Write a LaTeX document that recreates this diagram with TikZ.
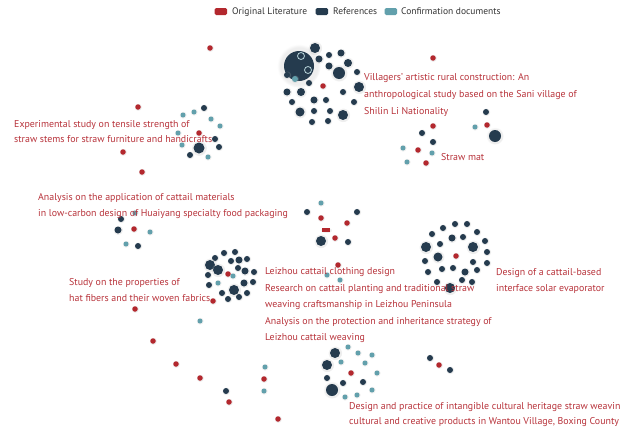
\documentclass[tikz,border=0pt]{standalone}
\usepackage{fontspec}
\setmainfont{PT Sans}
\usetikzlibrary{shadows,fadings}
\definecolor{cred}{HTML}{B3282E}
\definecolor{cnavy}{HTML}{253B4E}
\definecolor{cteal}{HTML}{62A0AC}
\definecolor{ctext}{HTML}{B8333B}
\definecolor{cedge}{HTML}{D3D6DA}
\definecolor{clegend}{HTML}{333333}
\pgfdeclarelayer{bg}
\pgfsetlayers{bg,main}
\tikzset{
  dot/.style={circle,inner sep=0pt,outer sep=0pt,draw=none,
    circular glow={fill=gray!60,opacity=0.22,shadow scale=1.45}},
  orig/.style={dot,fill=cred,minimum size=5.5pt},
  refn/.style={dot,fill=cnavy,minimum size=6pt},
  conf/.style={dot,fill=cteal,minimum size=5pt},
  ring/.style={circle,inner sep=0pt,minimum size=7pt,draw=white!55!cteal,line width=0.8pt},
  edge/.style={draw=cedge,line width=0.55pt},
  lbl/.style={text=ctext,font=\fontsize{9.9}{12}\selectfont,anchor=base west,inner sep=0pt},
  legtxt/.style={text=clegend,font=\fontsize{9.5}{11}\selectfont,anchor=base west,inner sep=0pt},
  swatch/.style={rounded corners=1.5pt,minimum width=12.5pt,minimum height=7pt,inner sep=0pt,anchor=west},
}
\newcommand\mkcluster[3]{%
  \foreach \x/\y/\d/\c [count=\i] in {#3} {%
    \node[dot,fill=\c,minimum size=\d pt] (#1\i) at (\x,\y) {};
    \begin{pgfonlayer}{bg}\draw[edge] (#2) -- (#1\i);\end{pgfonlayer}
  }}
\begin{document}
\begin{tikzpicture}[x=1pt,y=-1pt]
\useasboundingbox[fill=white] (0,0) rectangle (620,431);

% legend
\node[swatch,fill=cred] (lg1) at (214.5,11.5) {};
\node[legtxt] (lt1) at (232,14.9) {Original Literature};
\node[swatch,fill=cnavy] (lg2) at (315.5,11.5) {};
\node[legtxt] (lt2) at (333,14.9) {References};
\node[swatch,fill=cteal] (lg3) at (384.5,11.5) {};
\node[legtxt] (lt3) at (401,14.9) {Confirmation documents};

% cluster 1: Villagers'
\node[orig] (A) at (323,86) {};
\mkcluster{a}{A}{299/66/30/cnavy, 315/48/10/cnavy, 319/59/7/cnavy, 329/55/6/cnavy, 341/53/7/cnavy, 329/66/7/cnavy, 339/73/12/cnavy, 348/63/8/cnavy, 357/72/6/cnavy, 359/87/10/cnavy, 343/92/6/cnavy, 354/102/6/cnavy, 343/115/10/cnavy, 330/111/6/cnavy, 326/100/6/cnavy, 314/100/7/cnavy, 314/111/6/cnavy, 300/112/9/cnavy, 312/122/6/cnavy, 328/121/6/cnavy, 301/92/8/cnavy, 287/92/7/cnavy, 292/102/6/cnavy, 309/83/6/cnavy, 287/75/6/cnavy, 295/79/6/cteal}
\node[ring] (ar1) at (301,56) {};
\node[ring] (ar2) at (308,70) {};

% cluster 2: Experimental study
\node[orig] (B) at (199,133) {};
\mkcluster{b}{B}{204/108/6/cnavy, 194/112/5/cteal, 183/115/5/cteal, 211/119/5/cteal, 220/126/5/cteal, 178/133/5/cteal, 182/145/5/cteal, 199/148/11/cnavy, 215/139/6/cnavy, 219/147/6/cnavy, 190/155/6/cnavy, 208/157/5/cteal}

% cluster 3: Straw mat
\node[orig] (C) at (418,150) {};
\mkcluster{c}{C}{433/126/5.5/cred, 422/133/6/cnavy, 433/142/6/cnavy, 403/148/5/cteal, 432/153/5/cteal, 407/162/5/cteal, 426/163/5.5/cred}

% small group right of straw mat
\node[orig] (D) at (487,125) {};
\mkcluster{d}{D}{486/112/6/cnavy, 475/127/5/cteal, 495/136/12/cnavy}

% cluster 4: Huaiyang
\node[orig] (E) at (134,229) {};
\mkcluster{e}{E}{121/219/6/cnavy, 135/213/5/cteal, 118/230/7/cnavy, 150/232/5/cteal, 126/244/5/cteal, 138/246/6/cnavy}

% cluster 5: middle tree
\node[conf] (m1) at (321,203) {};
\node[refn] (m2) at (307,212) {};
\node[orig] (m3) at (321,218) {};
\node[refn] (m4) at (357,212) {};
\node[orig] (m5) at (347,223) {};
\node[dot,fill=cred,rectangle,minimum width=8pt,minimum height=3.5pt] (m6) at (326,230) {};
\node[orig] (m7) at (335,238) {};
\node[refn,minimum size=10pt] (m8) at (321,241) {};
\node[refn] (m9) at (348,242) {};
\node[orig] (m10) at (338,265) {};
\node[conf] (m11) at (327,275) {};
\node[conf] (m12) at (340,280) {};
\begin{pgfonlayer}{bg}
\draw[edge] (m1) -- (m3);
\draw[edge] (m2) -- (m3);
\draw[edge] (m3) -- (m6);
\draw[edge] (m6) -- (m7);
\draw[edge] (m5) -- (m4);
\draw[edge] (m5) -- (m7);
\draw[edge] (m7) -- (m8);
\draw[edge] (m7) -- (m9);
\draw[edge] (m7) -- (m10);
\draw[edge] (m10) -- (m11);
\draw[edge] (m10) -- (m12);
\end{pgfonlayer}

% cluster 6: Leizhou
\node[orig] (F) at (228,274) {};
\mkcluster{f}{F}{233/276/5/cteal, 218/283/5/cteal, 224/253/6/cnavy, 235/252/6/cnavy, 215/258/6/cnavy, 231/261/6/cnavy, 239/260/7/cnavy, 247/259/6/cnavy, 210/265/10/cnavy, 218/270/10/cnavy, 238/268/6/cnavy, 245/271/7/cnavy, 254/272/6/cnavy, 208/275/6/cnavy, 244/283/7/cnavy, 253/282/6/cnavy, 209/285/6/cnavy, 222/293/6/cnavy, 234/290/10/cnavy, 247/293/6/cnavy, 228/299/6/cnavy, 239/297/6/cnavy, 213/301/5.5/cred}
\node[conf] (ft) at (200,321) {};
\begin{pgfonlayer}{bg}\draw[edge] (f23) -- (ft);\end{pgfonlayer}

% cluster 7: solar evaporator
\node[orig] (G) at (456,256) {};
\mkcluster{g}{G}{455/224/6/cnavy, 467/224/6/cnavy, 443/228/6/cnavy, 477/232/6/cnavy, 432/234/6/cnavy, 452/238/7/cnavy, 463/237/6/cnavy, 485/241/6/cnavy, 440/244/6/cnavy, 473/247/10/cnavy, 426/247/10/cnavy, 487/252/6/cnavy, 438/257/9/cnavy, 425/261/6/cnavy, 473/262/6/cnavy, 487/263/6/cnavy, 442/269/6/cnavy, 453/268/6/cnavy, 465/272/7/cnavy, 477/270/6/cnavy, 428/272/6/cnavy, 437/282/6/cnavy, 450/288/10/cnavy, 472/282/6/cnavy, 462/280/6/cnavy}

% cluster 8: Wantou Village
\node[orig] (H) at (351,373) {};
\mkcluster{h}{H}{335/353/10/cnavy, 348/347/5/cteal, 358/353/5/cteal, 372/355/5/cteal, 341/362/5/cteal, 365/363/5/cteal, 327/365/10/cnavy, 377/373/5/cteal, 327/378/6/cnavy, 343/383/6/cnavy, 363/382/6/cnavy, 332/390/12/cnavy, 372/390/5/cteal, 345/397/5/cteal, 357/395/5/cteal}

% small groups
\node[conf] (p1) at (265,367) {};
\node[orig] (p2) at (264,379) {};
\node[conf] (p3) at (264,391) {};
\node[refn] (q1) at (430,358) {};
\node[orig] (q2) at (439,365) {};
\node[refn] (q3) at (450,370) {};
\node[refn] (r1) at (226,391) {};
\node[orig] (r2) at (229,402) {};
\begin{pgfonlayer}{bg}
\draw[edge] (p1) -- (p2) -- (p3);
\draw[edge] (q1) -- (q2) -- (q3);
\draw[edge] (r1) -- (r2);
\end{pgfonlayer}

% isolated original literature
\foreach \x/\y [count=\i] in {210/48, 433/58, 138/107, 123/152, 142/172, 135/309, 153/341, 176/364, 200/378, 278/419}
  \node[orig] (s\i) at (\x,\y) {};

% labels
\node[lbl] (t1a) at (364,80.4) {Villagers' artistic rural construction: An};
\node[lbl] (t1b) at (364,97.4) {anthropological study based on the Sani village of};
\node[lbl] (t1c) at (364,114.4) {Shilin Li Nationality};
\node[lbl] (t2a) at (14,127) {Experimental study on tensile strength of};
\node[lbl] (t2b) at (14,142) {straw stems for straw furniture and handicrafts};
\node[lbl] (t3) at (441,160.5) {Straw mat};
\node[lbl] (t4a) at (38,200.4) {Analysis on the application of cattail materials};
\node[lbl] (t4b) at (38,216.4) {in low-carbon design of Huaiyang specialty food packaging};
\node[lbl] (t5a) at (265,274.4) {Leizhou cattail clothing design};
\node[lbl] (t5b) at (265,291.4) {Research on cattail planting and traditional straw};
\node[lbl] (t5c) at (265,307.6) {weaving craftsmanship in Leizhou Peninsula};
\node[lbl] (t5d) at (265,324.2) {Analysis on the protection and inheritance strategy of};
\node[lbl] (t5e) at (265,340.6) {Leizhou cattail weaving};
\node[lbl] (t6a) at (496,275) {Design of a cattail-based};
\node[lbl] (t6b) at (496,291.4) {interface solar evaporator};
\node[lbl] (t7a) at (69,285.4) {Study on the properties of};
\node[lbl] (t7b) at (69,301.4) {hat fibers and their woven fabrics};
\node[lbl] (t8a) at (349,409.2) {Design and practice of intangible cultural heritage straw weaving};
\node[lbl] (t8b) at (349,424) {cultural and creative products in Wantou Village, Boxing County};
\end{tikzpicture}
\end{document}
